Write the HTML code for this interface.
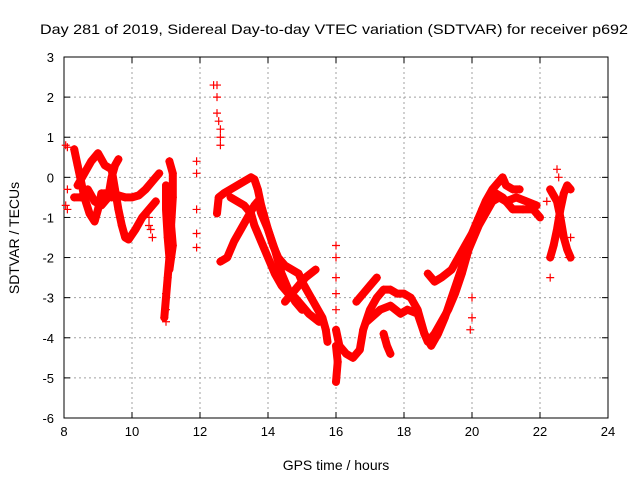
<!DOCTYPE html>
<html><head><meta charset="utf-8"><style>
body{margin:0;background:#fff}
svg{display:block;font-family:"Liberation Sans",sans-serif}
</style></head><body>
<svg id="c" width="640" height="480"></svg>
<script>
const xTicks=[8,10,12,14,16,18,20,22,24];
const yTicks=[3,2,1,0,-1,-2,-3,-4,-5,-6];
const trackB=[[8.3,0.7],[8.4,0.3],[8.5,-0.1],[8.6,-0.5],[8.75,-0.9],[8.9,-1.1],[9.0,-0.8],[9.1,-0.4],[9.2,-0.4],[9.4,-0.5],[9.6,-0.45],[9.8,-0.5],[10.0,-0.5],[10.2,-0.45],[10.4,-0.3],[10.6,-0.1],[10.8,0.1]];
const trackC=[[8.4,-0.2],[8.6,0.1],[8.8,0.4],[9.0,0.6],[9.2,0.3],[9.4,0.2],[9.5,-0.3],[9.6,-0.8],[9.7,-1.2],[9.8,-1.5],[9.9,-1.55],[10.1,-1.3],[10.3,-1.0],[10.5,-0.8],[10.7,-0.6]];
const trackD=[[8.3,-0.5],[8.5,-0.5],[8.7,-0.3],[8.9,-0.6],[9.1,-0.7],[9.3,-0.5],[9.4,0.0],[9.5,0.3],[9.6,0.45]];
const trackE1=[[11.0,-0.2],[11.0,-0.8],[11.05,-1.5],[11.1,-2.0],[11.05,-2.5],[11.0,-3.0],[10.95,-3.5]];
const trackE2=[[11.1,0.4],[11.2,0.1],[11.2,-0.5],[11.15,-1.2],[11.2,-1.7],[11.1,-2.3]];
const trackF=[[12.5,-0.9],[12.55,-0.5],[12.7,-0.4],[12.9,-0.3],[13.1,-0.2],[13.3,-0.1],[13.5,0.0],[13.6,-0.05],[13.7,-0.3],[13.8,-0.7],[13.9,-1.0],[14.0,-1.3],[14.15,-1.7],[14.3,-2.0],[14.5,-2.2],[14.7,-2.3],[14.9,-2.4],[15.0,-2.6],[15.2,-2.9],[15.4,-3.2],[15.6,-3.5],[15.7,-3.8],[15.75,-4.1]];
const trackG=[[12.9,-0.5],[13.1,-0.6],[13.3,-0.7],[13.5,-0.9],[13.6,-1.2],[13.8,-1.6],[14.0,-2.0],[14.2,-2.4],[14.4,-2.7],[14.6,-2.9],[14.8,-3.0],[15.0,-3.2],[15.2,-3.4],[15.5,-3.6]];
const trackH=[[12.6,-2.1],[12.8,-2.0],[13.0,-1.6],[13.2,-1.3],[13.4,-1.0],[13.6,-0.7],[13.7,-0.6],[13.8,-0.9],[14.0,-1.3],[14.2,-1.8],[14.4,-2.4],[14.6,-2.8],[14.8,-3.1],[15.0,-3.3]];
const trackH2=[[14.5,-3.1],[14.7,-2.9],[14.9,-2.7],[15.1,-2.5],[15.4,-2.3]];
const trackI=[[16.0,-3.8],[16.1,-4.2],[16.3,-4.4],[16.5,-4.5],[16.7,-4.3],[16.8,-3.8],[17.0,-3.3],[17.2,-3.0],[17.4,-2.8],[17.6,-2.8],[17.8,-2.9],[18.0,-2.9],[18.2,-3.0],[18.4,-3.3],[18.5,-3.6],[18.6,-3.9],[18.7,-4.1],[18.9,-3.9],[19.1,-3.6],[19.3,-3.3],[19.5,-2.9],[19.7,-2.4],[19.9,-1.8],[20.1,-1.3],[20.3,-0.8],[20.5,-0.5],[20.7,-0.4],[20.9,-0.5],[21.2,-0.8],[21.5,-0.8],[21.8,-0.8],[22.0,-1.0]];
const trackJ=[[16.6,-3.1],[16.8,-2.9],[17.0,-2.7],[17.2,-2.5]];
const trackK=[[16.9,-3.6],[17.3,-3.3],[17.6,-3.2],[17.9,-3.4],[18.1,-3.3],[18.4,-3.4],[18.6,-3.9],[18.8,-4.2],[19.0,-3.9],[19.2,-3.5],[19.4,-3.0],[19.6,-2.5],[19.8,-2.0],[20.0,-1.6],[20.2,-1.2],[20.4,-0.9],[20.6,-0.6],[20.8,-0.5],[21.0,-0.6],[21.3,-0.5],[21.6,-0.6],[21.9,-0.7]];
const trackL=[[18.7,-2.4],[18.9,-2.6],[19.1,-2.5],[19.4,-2.3],[19.6,-2.0],[19.8,-1.7],[20.0,-1.4],[20.2,-1.0],[20.4,-0.6],[20.6,-0.3],[20.8,-0.1],[20.9,0.0],[21.0,-0.2],[21.2,-0.3],[21.4,-0.3]];
const trackM=[[22.3,-0.3],[22.5,-0.6],[22.6,-1.0],[22.7,-1.5],[22.8,-1.8],[22.9,-2.0]];
const trackN=[[22.3,-2.0],[22.4,-1.7],[22.5,-1.3],[22.6,-0.8],[22.7,-0.4],[22.8,-0.2],[22.9,-0.3]];
const trackP=[[16.0,-4.2],[16.05,-4.6],[16.0,-5.1]];
const trackQ=[[17.4,-3.9],[17.5,-4.2],[17.6,-4.4]];
const scatterPts=[[8.05,0.8],[8.1,0.75],[8.05,-0.7],[8.1,-0.8],[8.1,-0.3],[10.5,-1.0],[10.55,-1.3],[10.6,-1.5],[10.5,-1.2],[11.9,0.4],[11.9,0.1],[11.9,-0.8],[11.9,-1.4],[11.9,-1.75],[12.4,2.3],[12.5,2.3],[12.5,2.0],[12.5,1.6],[12.55,1.4],[12.6,1.2],[12.6,1.0],[12.6,0.8],[11.0,-2.9],[11.0,-3.3],[11.0,-3.6],[16.0,-1.7],[16.0,-2.0],[16.0,-2.5],[16.0,-2.9],[16.0,-3.3],[20.0,-3.0],[20.0,-3.5],[19.95,-3.8],[22.5,0.2],[22.55,0.0],[22.3,-2.5],[22.2,-0.6],[22.9,-1.5],[22.85,-2.0]];
const tracks=[trackB,trackC,trackD,trackE1,trackE2,trackF,trackG,trackH,trackH2,trackI,trackJ,trackK,trackL,trackM,trackN,trackP,trackQ];

const NS="http://www.w3.org/2000/svg";
const svg=document.getElementById('c');
const X0=64,X1=608,Y0=57,Y1=418;
const sx=h=>X0+(h-8)/(24-8)*(X1-X0);
const sy=v=>Y0+(3-v)/(3-(-6))*(Y1-Y0);
function el(t,a,p){const e=document.createElementNS(NS,t);for(const k in a)e.setAttribute(k,a[k]);(p||svg).appendChild(e);return e;}

const grid=el('g',{});


xTicks.forEach(t=>{
  if(t>8&&t<24) el('line',{x1:sx(t),x2:sx(t),y1:Y0,y2:Y1,stroke:'#a0a0a0','stroke-dasharray':'2,3'},grid);
  el('line',{x1:sx(t),x2:sx(t),y1:Y1,y2:Y1-6,stroke:'#000'},grid);
  el('line',{x1:sx(t),x2:sx(t),y1:Y0,y2:Y0+6,stroke:'#000'},grid);
  const tx=el('text',{x:sx(t),y:Y1+18,'text-anchor':'middle','font-size':'13'});
  tx.textContent=t;
  
  
});
yTicks.forEach(t=>{
  if(t<3&&t>-6) el('line',{x1:X0,x2:X1,y1:sy(t),y2:sy(t),stroke:'#a0a0a0','stroke-dasharray':'2,3'},grid);
  el('line',{x1:X0,x2:X0+6,y1:sy(t),y2:sy(t),stroke:'#000'},grid);
  el('line',{x1:X1,x2:X1-6,y1:sy(t),y2:sy(t),stroke:'#000'},grid);
  const tx=el('text',{x:X0-10,y:sy(t)+5,'text-anchor':'end','font-size':'13'});
  tx.textContent=t;
  
  
});
const frame=el('rect',{x:X0,y:Y0,width:X1-X0,height:Y1-Y0,fill:'none',stroke:'#000'});



const series=el('g',{});


function plus(h,v){
  const x=sx(h),y=sy(v);
  const p=el('path',{d:`M${x-4},${y}H${x+4}M${x},${y-4}V${y+4}`,stroke:'#f00','stroke-width':'1.2'},series);
  
  
}
tracks.forEach(tr=>{
  const pl=el('polyline',{points:tr.map(p=>sx(p[0])+','+sy(p[1])).join(' '),fill:'none',stroke:'#f00','stroke-width':'8','stroke-linejoin':'round','stroke-linecap':'round'},series);
  
  
  tr.forEach(p=>plus(p[0],p[1]));
});
scatterPts.forEach(p=>plus(p[0],p[1]));

const title=el('text',{x:334,y:34,'text-anchor':'middle','font-size':'14',textLength:'588',lengthAdjust:'spacingAndGlyphs'});
title.textContent='Day 281 of 2019, Sidereal Day-to-day VTEC variation (SDTVAR) for receiver p692';


const xt=el('text',{x:336,y:470,'text-anchor':'middle','font-size':'14'});
xt.textContent='GPS time / hours';


const yt=el('text',{x:0,y:0,'text-anchor':'middle','font-size':'14',transform:'translate(19,238) rotate(-90)'});
yt.textContent='SDTVAR / TECUs';


</script>
</body></html>
